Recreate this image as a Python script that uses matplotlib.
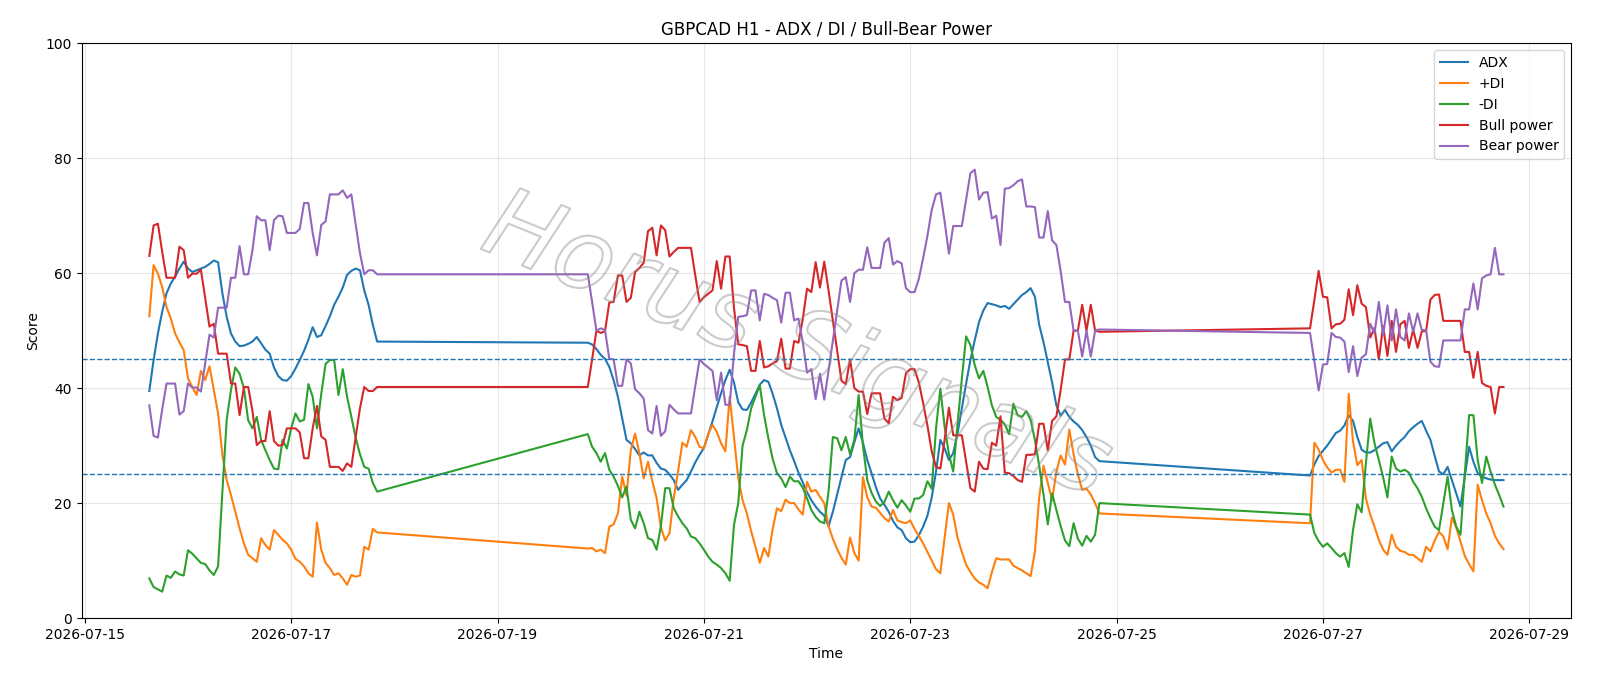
#!/usr/bin/env python3
"""GBPCAD H1 ADX / DI / Bull-Bear power chart, hourly bars with weekend gaps."""

import matplotlib

matplotlib.use("Agg")

import matplotlib.pyplot as plt
import matplotlib.dates as mdates
import matplotlib.patheffects as pe
import pandas as pd

# ── Data (hourly bars, three trading blocks) ────────────────────────────────
SEG_STARTS = ["2026-07-15 15:00", "2026-07-19 21:00", "2026-07-26 21:00"]
SEG_LENGTHS = [54, 120, 46]

adx = [
    # week 1
    39.5, 44.9, 49.5, 53.3, 56.5, 58.2, 59.4, 60.8, 62.0, 60.8,
    60.2, 60.5, 60.8, 61.1, 61.6, 62.2, 61.9, 56.5, 52.4, 49.5,
    48.1, 47.3, 47.4, 47.7, 48.1, 48.9, 47.8, 46.7, 46.0, 43.6,
    42.1, 41.4, 41.3, 42.1, 43.4, 44.9, 46.5, 48.4, 50.6, 48.9,
    49.2, 50.8, 52.5, 54.5, 55.9, 57.5, 59.7, 60.4, 60.8, 60.5,
    57.0, 54.5, 51.0, 48.1,
    # week 2
    47.9, 47.6, 46.8, 45.8, 45.1, 43.7, 41.4, 38.5, 34.7, 31.0,
    30.4, 29.4, 28.3, 28.8, 28.3, 28.3, 27.0, 26.0, 25.8, 25.0,
    24.0, 22.3, 23.2, 24.0, 25.5, 27.1, 28.4, 29.6, 31.9, 34.2,
    36.7, 39.1, 41.4, 43.2, 41.0, 37.5, 36.3, 36.2, 37.5, 39.0,
    40.6, 41.4, 41.1, 39.0, 36.5, 33.6, 31.4, 29.2, 27.3, 25.3,
    23.6, 21.9, 20.5, 19.4, 18.5, 17.8, 16.0, 18.5, 21.5, 24.5,
    27.5, 28.0, 30.6, 33.0, 30.5, 27.5, 25.2, 22.8, 20.8, 19.7,
    18.5, 16.9, 15.8, 15.3, 13.9, 13.2, 13.3, 14.4, 15.9, 17.8,
    21.0, 25.5, 31.0, 29.5, 27.5, 28.7, 32.1, 36.5, 40.8, 44.9,
    48.3, 51.5, 53.5, 54.8, 54.6, 54.4, 54.1, 54.3, 53.8, 54.6,
    55.4, 56.2, 56.7, 57.4, 55.9, 51.0, 48.0, 44.5, 41.0, 37.0,
    35.2, 36.2, 35.0, 34.2, 33.6, 32.7, 31.5, 30.0, 28.0, 27.3,
    # week 3
    24.8, 26.7, 28.2, 29.1, 30.0, 31.1, 32.2, 32.6, 33.5, 35.3,
    34.3, 31.5, 29.3, 28.8, 28.8, 29.2, 29.8, 30.4, 30.6, 29.0,
    30.0, 30.8, 31.5, 32.5, 33.2, 33.8, 34.3, 32.6, 31.0, 28.2,
    25.5, 25.0, 26.3, 24.0, 21.7, 19.4, 24.6, 29.8, 27.2, 25.2,
    24.6, 24.3, 24.1, 24.0, 24.0, 24.0,
]

plus_di = [
    52.5, 61.4, 59.9, 57.6, 54.1, 52.1, 49.5, 48.0, 46.6, 41.7,
    40.2, 38.8, 43.0, 41.4, 43.8, 39.7, 35.6, 28.4, 24.0, 21.4,
    18.5, 15.6, 13.0, 11.0, 10.4, 9.8, 13.9, 12.7, 11.9, 15.3,
    14.5, 13.6, 13.0, 11.9, 10.3, 9.8, 9.0, 7.8, 7.2, 16.6,
    11.9, 9.6, 8.7, 7.5, 7.8, 6.9, 5.8, 7.5, 7.2, 7.4,
    12.4, 11.9, 15.5, 14.9,
    12.1, 12.2, 11.6, 11.9, 11.3, 15.9, 16.3, 18.2, 24.6, 21.3,
    29.2, 32.1, 28.7, 24.3, 27.2, 23.8, 20.9, 15.8, 13.5, 14.8,
    21.0, 25.5, 30.5, 29.8, 32.7, 31.5, 29.8, 29.5, 32.0, 33.6,
    32.4, 30.4, 29.0, 38.5, 31.5, 24.3, 20.5, 18.2, 15.1, 12.4,
    9.6, 12.2, 10.7, 15.5, 19.1, 18.6, 20.6, 20.0, 20.0, 18.9,
    18.0, 23.7, 22.0, 22.3, 21.1, 20.0, 16.0, 13.8, 12.0, 10.5,
    9.3, 14.0, 11.3, 10.0, 24.5, 21.0, 19.4, 19.2, 18.3, 17.4,
    16.8, 18.8, 17.0, 16.7, 16.5, 17.0, 15.5, 14.3, 13.0, 11.5,
    10.0, 8.5, 7.8, 14.0, 20.0, 18.0, 14.0, 11.5, 9.3, 8.0,
    6.9, 6.2, 5.8, 5.2, 8.0, 10.4, 10.2, 10.2, 10.2, 9.1,
    8.7, 8.3, 7.8, 7.3, 11.5, 21.0, 26.5, 23.5, 20.5, 25.5,
    28.3, 26.7, 32.8, 28.5, 25.0, 22.3, 22.5, 21.5, 20.0, 18.2,
    16.5, 30.5, 29.3, 27.5, 26.2, 25.3, 25.8, 25.8, 23.7, 39.0,
    30.7, 26.6, 27.5, 20.8, 18.0, 15.9, 13.6, 11.9, 11.0, 14.5,
    12.4, 11.7, 11.5, 11.0, 11.0, 10.4, 9.8, 12.4, 11.6, 13.5,
    15.0, 14.2, 12.0, 17.5, 15.8, 13.3, 10.8, 9.4, 8.1, 23.2,
    20.5, 18.2, 16.5, 14.3, 13.0, 12.0,
]

minus_di = [
    6.9, 5.4, 5.0, 4.6, 7.4, 7.0, 8.1, 7.6, 7.4, 11.8,
    11.2, 10.4, 9.6, 9.4, 8.3, 7.5, 9.0, 22.0, 34.5, 39.7,
    43.6, 42.5, 40.0, 34.4, 33.0, 35.0, 31.0, 29.2, 27.5, 26.0,
    25.9, 31.0, 29.5, 33.0, 35.6, 34.2, 34.5, 40.7, 38.5, 33.0,
    39.0, 44.2, 44.9, 44.9, 38.8, 43.3, 38.5, 35.0, 31.4, 28.5,
    26.3, 26.0, 23.5, 22.0,
    32.0, 29.8, 28.7, 27.2, 28.7, 25.8, 24.6, 23.0, 21.0, 22.9,
    17.1, 15.6, 18.5, 16.5, 13.9, 13.6, 11.9, 16.0, 22.6, 22.6,
    19.1, 17.7, 16.5, 15.6, 14.2, 13.9, 13.0, 11.9, 10.7, 9.8,
    9.3, 8.7, 7.8, 6.5, 16.2, 20.0, 30.0, 32.7, 36.5, 38.5,
    40.5, 35.3, 31.3, 27.7, 25.2, 24.3, 22.8, 24.6, 23.8, 23.8,
    22.7, 20.8, 18.8, 17.6, 16.8, 16.5, 22.0, 31.5, 31.3, 29.2,
    31.5, 28.5, 31.0, 38.8, 30.0, 24.0, 21.8, 20.3, 19.5, 20.2,
    22.0, 20.5, 19.2, 20.5, 19.6, 18.5, 20.8, 20.8, 21.4, 23.8,
    22.5, 33.0, 39.9, 33.3, 28.5, 25.5, 33.7, 41.6, 49.0, 47.5,
    44.0, 41.7, 43.0, 40.2, 37.0, 35.0, 34.5, 33.7, 32.0, 37.3,
    35.3, 35.0, 36.0, 34.5, 31.0, 26.5, 21.5, 16.3, 21.7, 18.8,
    16.0, 13.5, 12.5, 16.5, 13.8, 12.6, 14.3, 13.3, 14.5, 20.0,
    18.0, 14.8, 13.4, 12.4, 13.0, 12.2, 11.3, 10.7, 11.3, 8.9,
    15.3, 19.8, 18.4, 27.0, 34.7, 30.4, 27.5, 24.5, 21.0, 28.1,
    26.0, 25.5, 25.8, 25.3, 23.7, 22.6, 21.1, 19.1, 17.4, 15.9,
    15.3, 20.0, 24.6, 18.8, 15.9, 14.5, 25.2, 35.3, 35.3, 27.5,
    23.5, 28.1, 25.5, 23.2, 21.4, 19.4,
]

bull_power = [
    63.0, 68.3, 68.6, 63.7, 59.2, 59.2, 59.2, 64.6, 64.0, 59.2,
    59.9, 59.9, 60.6, 55.6, 50.7, 51.2, 46.0, 46.0, 46.0, 40.8,
    40.8, 35.3, 40.2, 40.2, 36.0, 30.1, 30.8, 30.8, 36.0, 30.8,
    30.0, 30.1, 33.0, 33.0, 33.0, 32.3, 27.8, 27.8, 33.0, 36.9,
    31.6, 31.0, 26.3, 26.3, 26.3, 25.6, 26.9, 26.3, 31.5, 36.5,
    40.2, 39.5, 39.5, 40.2,
    40.2, 45.0, 50.0, 49.6, 49.9, 54.9, 55.0, 59.6, 59.6, 55.0,
    55.7, 60.2, 60.9, 61.8, 67.3, 67.9, 63.1, 68.3, 67.5, 62.9,
    63.7, 64.4, 64.4, 64.4, 64.4, 59.6, 55.0, 55.8, 56.4, 57.0,
    62.1, 57.3, 62.9, 62.9, 54.0, 47.6, 47.5, 47.3, 43.0, 43.0,
    48.2, 43.6, 43.8, 44.3, 44.7, 48.6, 43.4, 43.4, 48.2, 47.9,
    52.0, 57.3, 56.7, 61.9, 57.5, 62.0, 57.0, 51.8, 46.6, 41.3,
    40.7, 45.0, 40.0, 39.4, 39.4, 35.5, 39.1, 39.1, 39.1, 34.7,
    33.9, 38.5, 37.9, 38.3, 42.6, 43.3, 43.3, 41.0, 37.4, 33.5,
    29.0, 26.3, 26.0, 31.0, 36.6, 31.8, 31.8, 31.8, 27.2, 22.6,
    22.0, 27.2, 26.0, 25.9, 30.5, 30.0, 35.1, 25.3, 25.2, 24.7,
    24.0, 23.7, 28.4, 28.4, 28.5, 33.8, 33.8, 29.2, 34.3, 35.1,
    39.7, 45.0, 45.0, 50.0, 50.0, 54.5, 50.0, 54.5, 50.0, 49.8,
    50.4, 55.3, 60.4, 55.9, 55.8, 50.4, 51.1, 51.2, 51.9, 57.2,
    52.7, 57.9, 54.7, 54.1, 48.8, 50.5, 45.0, 50.8, 45.6, 51.7,
    46.3, 51.1, 51.7, 47.0, 50.2, 47.0, 49.9, 49.9, 55.4, 56.2,
    56.3, 51.7, 51.7, 51.7, 51.7, 51.7, 46.3, 46.3, 41.8, 46.3,
    40.9, 40.4, 40.2, 35.6, 40.2, 40.2,
]

bear_power = [
    37.0, 31.7, 31.4, 36.3, 40.8, 40.8, 40.8, 35.4, 36.0, 40.8,
    40.1, 40.1, 39.4, 44.4, 49.3, 48.8, 54.0, 54.0, 54.0, 59.2,
    59.2, 64.7, 59.8, 59.8, 64.0, 69.9, 69.2, 69.2, 64.0, 69.2,
    70.0, 69.9, 67.0, 67.0, 67.0, 67.7, 72.2, 72.2, 67.0, 63.1,
    68.4, 69.0, 73.7, 73.7, 73.7, 74.4, 73.1, 73.7, 68.5, 63.5,
    59.8, 60.5, 60.5, 59.8,
    59.8, 55.0, 50.0, 50.4, 50.1, 45.1, 45.0, 40.4, 40.4, 45.0,
    44.3, 39.8, 39.1, 38.2, 32.7, 32.1, 36.9, 31.7, 32.5, 37.1,
    36.3, 35.6, 35.6, 35.6, 35.6, 40.4, 45.0, 44.2, 43.6, 43.0,
    37.9, 42.7, 37.1, 37.1, 46.0, 52.4, 52.5, 52.7, 57.0, 57.0,
    51.8, 56.4, 56.2, 55.7, 55.3, 51.4, 56.6, 56.6, 51.8, 52.1,
    48.0, 42.7, 43.3, 38.1, 42.5, 38.0, 43.0, 48.2, 53.4, 58.7,
    59.3, 55.0, 60.0, 60.6, 60.6, 64.5, 60.9, 60.9, 60.9, 65.3,
    66.1, 61.5, 62.1, 61.7, 57.4, 56.7, 56.7, 59.0, 62.6, 66.5,
    71.0, 73.7, 74.0, 69.0, 63.4, 68.2, 68.2, 68.2, 72.8, 77.4,
    78.0, 72.8, 74.0, 74.1, 69.5, 70.0, 64.9, 74.7, 74.8, 75.3,
    76.0, 76.3, 71.6, 71.6, 71.5, 66.2, 66.2, 70.8, 65.7, 64.9,
    60.3, 55.0, 55.0, 50.0, 50.0, 45.5, 50.0, 45.5, 50.0, 50.2,
    49.6, 44.7, 39.6, 44.1, 44.2, 49.6, 48.9, 48.8, 48.1, 42.8,
    47.3, 42.1, 45.3, 45.9, 51.2, 49.5, 55.0, 49.2, 54.4, 48.3,
    53.7, 48.9, 48.3, 53.0, 49.8, 53.0, 50.1, 50.1, 44.6, 43.8,
    43.7, 48.3, 48.3, 48.3, 48.3, 48.3, 53.7, 53.7, 58.2, 53.7,
    59.1, 59.6, 59.8, 64.4, 59.8, 59.8,
]

LEVELS = [25, 45]
TICK_DATES = ["2026-07-15", "2026-07-17", "2026-07-19", "2026-07-21",
              "2026-07-23", "2026-07-25", "2026-07-27", "2026-07-29"]

SERIES = [
    ("ADX", adx, "#1f77b4"),
    ("+DI", plus_di, "#ff7f0e"),
    ("-DI", minus_di, "#2ca02c"),
    ("Bull power", bull_power, "#d62728"),
    ("Bear power", bear_power, "#9467bd"),
]


def main():
    times = pd.DatetimeIndex([])
    for start, n in zip(SEG_STARTS, SEG_LENGTHS):
        times = times.append(pd.date_range(start, periods=n, freq="h"))

    fig, ax = plt.subplots(figsize=(16, 6.86), dpi=100)
    fig.subplots_adjust(left=0.051, right=0.982, top=0.937, bottom=0.099)

    for label, values, color in SERIES:
        ax.plot(times, values, color=color, linewidth=1.5, label=label)
    for lvl in LEVELS:
        ax.axhline(lvl, color="#1f77b4", linestyle="--", linewidth=1)

    ax.set_ylim(0, 100)
    ax.set_xticks(pd.to_datetime(TICK_DATES))
    ax.xaxis.set_major_formatter(mdates.DateFormatter("%Y-%m-%d"))
    ax.grid(True, alpha=0.3)
    ax.set_title("GBPCAD H1 - ADX / DI / Bull-Bear Power")
    ax.set_xlabel("Time")
    ax.set_ylabel("Score")
    ax.legend(loc="upper right")

    # faint outlined watermark across the middle
    ax.text(0.48, 0.47, "Horus Signals", transform=ax.transAxes,
            fontsize=70, style="italic", rotation=-22, ha="center", va="center",
            color="none", zorder=6,
            path_effects=[pe.withStroke(linewidth=1.5, foreground=(0.55, 0.55, 0.55, 0.45))])

    fig.savefig("out.png", dpi=100)
    plt.close(fig)


if __name__ == "__main__":
    main()
